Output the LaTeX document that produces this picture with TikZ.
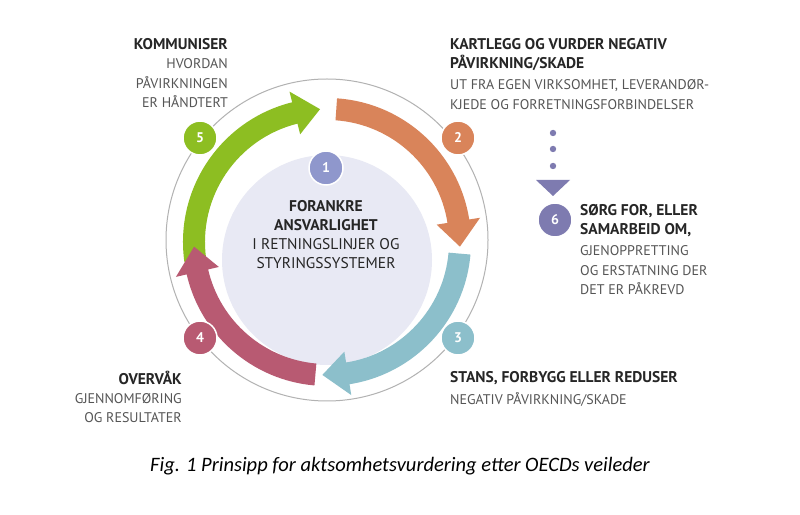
\documentclass[tikz,border=0pt]{standalone}
\usepackage{fontspec}
\setmainfont{PT Sans}
\newfontfamily\capfont{Carlito}
\usetikzlibrary{positioning}
\definecolor{cgreen}{HTML}{8DBE22}
\definecolor{corange}{HTML}{D9845A}
\definecolor{cblue}{HTML}{8CBFCB}
\definecolor{cred}{HTML}{B85A72}
\definecolor{clav}{HTML}{8F97CC}
\definecolor{csix}{HTML}{7E7BB0}
\definecolor{cinner}{HTML}{E8E9F4}
\definecolor{ctext}{HTML}{555555}
% ring arrow: colour, start angle, tip angle (clockwise)
\newcommand\ringarrow[3]{%
  \fill[#1] (#2:122) arc[start angle=#2, end angle=#3+11, radius=122]
    -- (#3+11:111) -- (#3:133) -- (#3+11:155) -- (#3+11:144)
    arc[start angle=#3+11, end angle=#2, radius=144] -- cycle;}
\begin{document}
\begin{tikzpicture}[
   x=1pt, y=1pt,
   num/.style={
     circle,
     fill=#1,
     draw=white,
     line width=1.5pt,
     minimum size=34pt,
     inner sep=0pt,
     text=white,
     font=\bfseries\fontsize{14}{14}\selectfont,
    },
   head/.style={
     font=\bfseries\fontsize{15.5}{19}\selectfont,
     text=black!85,
     inner sep=0pt,
    },
   body/.style={
     font=\fontsize{14}{19.5}\selectfont,
     text=ctext,
     inner sep=0pt,
    },
  ]
\useasboundingbox (0,0) rectangle (800,514);
\fill[white] (0,0) rectangle (800,514);

\draw[gray!60, line width=1pt] (327,274) circle[radius=161];
\fill[cinner] (327,254) circle[radius=105];

\begin{scope}[shift={(327,272)}]
\ringarrow{cgreen}{188}{93}
\ringarrow{corange}{86}{-2}
\ringarrow{cblue}{-5}{-92}
\ringarrow{cred}{265}{182}
\end{scope}

\node[num=clav] (n1) at (326,346) {1};
\node[num=corange] (n2) at (458,376) {2};
\node[num=cblue] (n3) at (458,176) {3};
\node[num=cred] (n4) at (200,176) {4};
\node[num=cgreen] (n5) at (200,376) {5};
\node[num=csix] (n6) at (555,294) {6};

\node[head, align=center, below=14pt of n1] (mid)
  {FORANKRE\\ANSVARLIGHET\\\mdseries I RETNINGSLINJER OG\\\mdseries STYRINGSSYSTEMER};

\node[head, align=right, anchor=north east] (t5h) at (228,476) {KOMMUNISER};
\node[body, align=right, below=9pt of t5h.south east, anchor=north east] (t5)
  {HVORDAN\\PÅVIRKNINGEN\\ER HÅNDTERT};

\node[head, align=left, anchor=north west] (t2h) at (450,476)
  {KARTLEGG OG VURDER NEGATIV\\PÅVIRKNING/SKADE};
\node[body, align=left, below=9pt of t2h.south west, anchor=north west] (t2)
  {UT FRA EGEN VIRKSOMHET, LEVERANDØR-\\KJEDE OG FORRETNINGSFORBINDELSER};

\node[head, align=left, anchor=north west] (t6h) at (580,310)
  {SØRG FOR, ELLER\\SAMARBEID OM,};
\node[body, align=left, below=9pt of t6h.south west, anchor=north west] (t6)
  {GJENOPPRETTING\\OG ERSTATNING DER\\DET ER PÅKREVD};

\node[head, align=left, anchor=north west] (t3h) at (450,143)
  {STANS, FORBYGG ELLER REDUSER};
\node[body, align=left, below=8pt of t3h.south west, anchor=north west] (t3)
  {NEGATIV PÅVIRKNING/SKADE};

\node[head, align=right, anchor=north east] (t4h) at (182,143) {OVERVÅK};
\node[body, align=right, below=8pt of t4h.south east, anchor=north east] (t4)
  {GJENNOMFØRING\\OG RESULTATER};

\foreach \y in {381,365,348}
  \fill[csix] (553,\y) circle[radius=3.2];
\fill[csix] (536,334) coordinate (ta) -- (570,334) -- (553,318) coordinate (tip) -- cycle;

\node[font=\capfont\itshape\fontsize{20.5}{20}\selectfont] (cap) at (400,48)
  {Fig. 1 Prinsipp for aktsomhetsvurdering etter OECDs veileder};
\end{tikzpicture}
\end{document}
